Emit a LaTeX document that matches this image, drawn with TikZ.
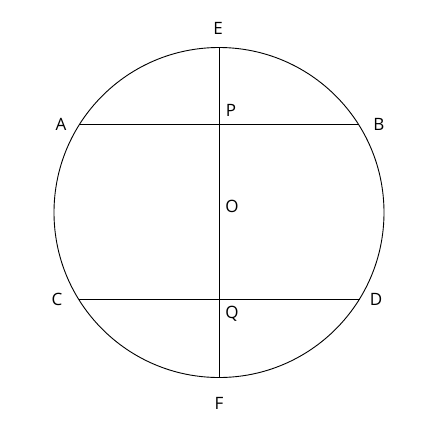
\documentclass[tikz,border=0pt]{standalone}
\usepackage{fontspec}
\setmainfont{Open Sans}
\begin{document}
\begin{tikzpicture}[x=1pt,y=-1pt,
  geo/.style={line width=0.9pt,black},
  lbl/.style={font=\fontsize{17}{17}\selectfont,inner sep=0pt,anchor=center}]
\useasboundingbox (0,0) rectangle (448,424);
\coordinate (O) at (219,212.5);
\coordinate (E) at (219,47.5);
\coordinate (F) at (219,377.5);
\coordinate (A) at (79.7,124);
\coordinate (B) at (358.3,124);
\coordinate (C) at (78.5,299);
\coordinate (D) at (359.5,299);
\draw[geo] (O) circle (165);
\draw[geo] (A) -- (B);
\draw[geo] (C) -- (D);
\draw[geo] (E) -- (F);
\node[lbl] (lE) at (218,28) {E};
\node[lbl] (lF) at (219,403) {F};
\node[lbl] (lA) at (61,124) {A};
\node[lbl] (lB) at (379,124) {B};
\node[lbl] (lC) at (57,299) {C};
\node[lbl] (lD) at (376,299) {D};
\node[lbl] (lP) at (231,110) {P};
\node[lbl] (lO) at (232,206) {O};
\node[lbl] (lQ) at (232,314) {Q};
\end{tikzpicture}
\end{document}
